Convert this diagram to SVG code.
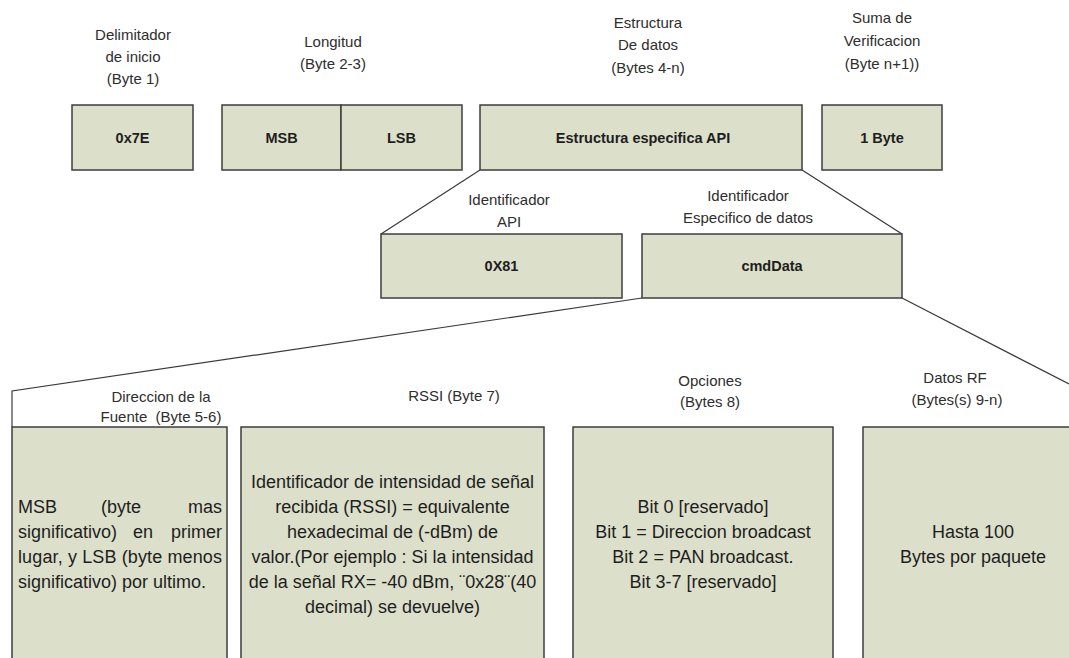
<svg xmlns="http://www.w3.org/2000/svg" width="1069" height="658" viewBox="0 0 1069 658">
  <style>
    .box { fill: #dcdfca; stroke: #3e3e3e; stroke-width: 1.5; }
    .lbl { font-family: "Liberation Sans", Arial, sans-serif; font-size: 15px; fill: #2e2e2e; text-anchor: middle; }
    .key { font-family: "Liberation Sans", Arial, sans-serif; font-size: 14.5px; font-weight: bold; fill: #1e1e1e; text-anchor: middle; }
    .body { font-family: "Liberation Sans", Arial, sans-serif; font-size: 18px; fill: #1e1e1e; }
    .mid { text-anchor: middle; }
    .end { text-anchor: end; }
    .link { fill: none; stroke: #3a3a3a; stroke-width: 1.2; }
  </style>
  <rect width="1069" height="658" fill="#ffffff"/>

  <!-- frame: start delimiter -->
  <g id="delimitador">
    <text class="lbl" x="133" y="40">Delimitador</text>
    <text class="lbl" x="133" y="62">de inicio</text>
    <text class="lbl" x="133" y="84">(Byte 1)</text>
    <rect class="box" x="72" y="105" width="121" height="65"/>
    <text class="key" x="132.5" y="143">0x7E</text>
  </g>

  <!-- frame: length -->
  <g id="longitud">
    <text class="lbl" x="333" y="47">Longitud</text>
    <text class="lbl" x="333" y="69">(Byte 2-3)</text>
    <rect class="box" x="222" y="105" width="119" height="65"/>
    <rect class="box" x="341" y="105" width="121" height="65"/>
    <text class="key" x="281.5" y="143">MSB</text>
    <text class="key" x="401.5" y="143">LSB</text>
  </g>

  <!-- frame: data structure -->
  <g id="estructura">
    <text class="lbl" x="648" y="28">Estructura</text>
    <text class="lbl" x="648" y="50">De datos</text>
    <text class="lbl" x="648" y="73">(Bytes 4-n)</text>
    <rect class="box" x="480" y="105" width="322" height="65"/>
    <text class="key" x="643" y="143">Estructura especifica API</text>
  </g>

  <!-- frame: checksum -->
  <g id="checksum">
    <text class="lbl" x="882" y="23">Suma de</text>
    <text class="lbl" x="882" y="46">Verificacion</text>
    <text class="lbl" x="882" y="69">(Byte n+1))</text>
    <rect class="box" x="822" y="105" width="120" height="65"/>
    <text class="key" x="882" y="143">1 Byte</text>
  </g>

  <!-- API identifier -->
  <g id="api-id">
    <text class="lbl" x="509" y="205">Identificador</text>
    <text class="lbl" x="509" y="227">API</text>
    <rect class="box" x="381" y="234" width="241" height="64"/>
    <text class="key" x="501.5" y="271">0X81</text>
  </g>

  <!-- command data -->
  <g id="cmd-data">
    <text class="lbl" x="748" y="201">Identificador</text>
    <text class="lbl" x="748" y="223">Especifico de datos</text>
    <rect class="box" x="642" y="234" width="260" height="64"/>
    <text class="key" x="772" y="271">cmdData</text>
  </g>

  <!-- source address -->
  <g id="source-address">
    <text class="lbl" x="161" y="402">Direccion de la</text>
    <text class="lbl" x="161" y="422" xml:space="preserve">Fuente  (Byte 5-6)</text>
    <rect class="box" x="12" y="427" width="215" height="245"/>
    <text class="body" x="18" y="513">MSB</text>
    <text class="body mid" x="121" y="513">(byte</text>
    <text class="body end" x="222" y="513">mas</text>
    <text class="body" x="18" y="538">significativo)</text>
    <text class="body mid" x="143" y="538">en</text>
    <text class="body end" x="222" y="538">primer</text>
    <text class="body" x="18" y="563" textLength="204">lugar, y LSB (byte menos</text>
    <text class="body" x="18" y="588">significativo) por ultimo.</text>
  </g>

  <!-- RSSI -->
  <g id="rssi">
    <text class="lbl" x="454" y="401">RSSI (Byte 7)</text>
    <rect class="box" x="241" y="427" width="303" height="245"/>
    <text class="body mid" x="392.5" y="488">Identificador de intensidad de señal</text>
    <text class="body mid" x="392.5" y="513">recibida (RSSI) = equivalente</text>
    <text class="body mid" x="392.5" y="538">hexadecimal de (-dBm) de</text>
    <text class="body mid" x="392.5" y="563">valor.(Por ejemplo : Si la intensidad</text>
    <text class="body mid" x="392.5" y="588">de la señal RX= -40 dBm, ¨0x28¨(40</text>
    <text class="body mid" x="392.5" y="613">decimal) se devuelve)</text>
  </g>

  <!-- options -->
  <g id="opciones">
    <text class="lbl" x="710" y="386">Opciones</text>
    <text class="lbl" x="710" y="407">(Bytes 8)</text>
    <rect class="box" x="573" y="427" width="260" height="245"/>
    <text class="body mid" x="703" y="513">Bit 0 [reservado]</text>
    <text class="body mid" x="703" y="538">Bit 1 = Direccion broadcast</text>
    <text class="body mid" x="703" y="563">Bit 2 = PAN broadcast.</text>
    <text class="body mid" x="703" y="588">Bit 3-7 [reservado]</text>
  </g>

  <!-- RF data -->
  <g id="datos-rf">
    <text class="lbl" x="955" y="383">Datos RF</text>
    <text class="lbl" x="957" y="405">(Bytes(s) 9-n)</text>
    <rect class="box" x="863" y="427" width="230" height="245"/>
    <text class="body mid" x="973" y="538">Hasta 100</text>
    <text class="body mid" x="973" y="563">Bytes por paquete</text>
  </g>

  <!-- expansion lines -->
  <g id="connectors">
    <line class="link" x1="480" y1="170" x2="381" y2="234"/>
    <line class="link" x1="802" y1="170" x2="902" y2="234"/>
    <polyline class="link" points="642,298 12,391 12,427"/>
    <line class="link" x1="902" y1="298" x2="1069" y2="384"/>
  </g>
</svg>
